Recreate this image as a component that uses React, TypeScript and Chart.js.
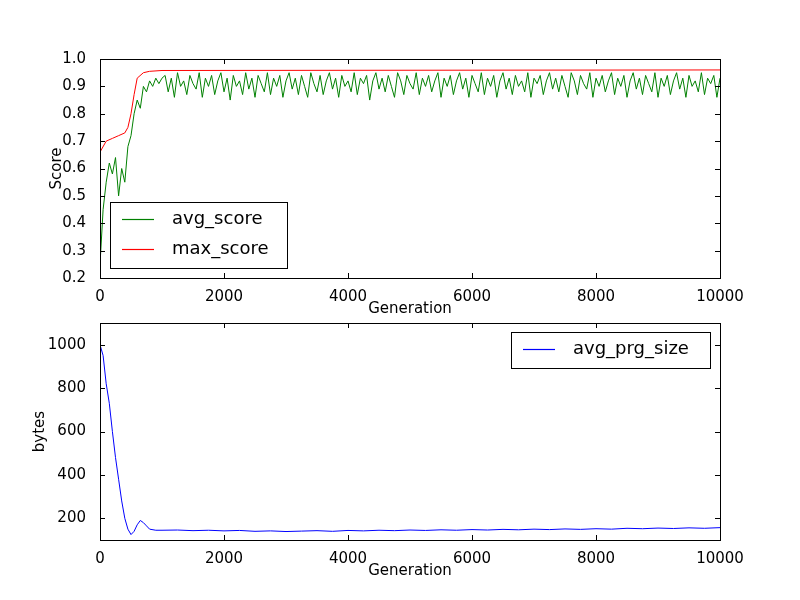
import React, { useEffect, useRef } from "react";
import { Chart, registerables } from "chart.js";
Chart.register(...registerables);

// Generations for the early avg_score part
const avgGenEarly = [0,50,100,150,200,250,300,350,400,450,500,550,600,650,700,750,800,850,900,950,1000];
const avgScoreEarly = [0.25,0.45,0.55,0.62,0.58,0.64,0.5,0.6,0.55,0.68,0.72,0.8,0.85,0.82,0.9,0.88,0.92,0.9,0.93,0.91,0.93];
// avg_score from 1050 to 10000 every 50
const avgScoreLate = [
0.94,0.88,0.93,0.86,0.95,0.9,0.92,0.87,0.94,0.91,
0.89,0.95,0.86,0.93,0.9,0.94,0.87,0.92,0.95,0.88,
0.93,0.85,0.94,0.9,0.92,0.87,0.95,0.89,0.93,0.86,
0.94,0.91,0.88,0.95,0.87,0.93,0.9,0.94,0.86,0.92,
0.95,0.89,0.93,0.87,0.94,0.9,0.86,0.95,0.91,0.88,
0.94,0.87,0.92,0.95,0.89,0.93,0.86,0.94,0.9,0.92,
0.88,0.95,0.87,0.93,0.91,0.94,0.85,0.92,0.95,0.89,
0.93,0.88,0.94,0.9,0.86,0.95,0.92,0.87,0.94,0.91,
0.89,0.95,0.87,0.93,0.9,0.94,0.88,0.92,0.95,0.86,
0.93,0.9,0.94,0.87,0.92,0.95,0.89,0.93,0.86,0.94,
0.91,0.88,0.95,0.87,0.93,0.9,0.94,0.86,0.92,0.95,
0.89,0.93,0.87,0.94,0.9,0.92,0.88,0.95,0.86,0.93,
0.91,0.94,0.87,0.92,0.95,0.89,0.93,0.88,0.94,0.9,
0.86,0.95,0.92,0.87,0.94,0.91,0.89,0.95,0.86,0.93,
0.9,0.94,0.88,0.92,0.95,0.87,0.93,0.9,0.94,0.86,
0.92,0.95,0.89,0.93,0.87,0.94,0.91,0.88,0.95,0.86,
0.93,0.9,0.94,0.87,0.92,0.95,0.89,0.93,0.86,0.94,
0.9,0.92,0.88,0.95,0.87,0.93,0.91,0.94,0.86,0.93
];
const maxGen = [0,100,200,300,400,450,500,550,600,700,800,1000,10000];
const maxScore = [0.66,0.7,0.71,0.72,0.73,0.75,0.8,0.87,0.93,0.95,0.955,0.958,0.96];

const prgGen = [0,50,100,150,200,250,300,350,400,450,500,550,600,650,700,750,800,900,1000,
1250,1500,1750,2000,2250,2500,2750,3000,3250,3500,3750,4000,4250,4500,4750,5000,5250,5500,5750,6000,
6250,6500,6750,7000,7250,7500,7750,8000,8250,8500,8750,9000,9250,9500,9750,10000];
const prgSize = [1000,950,820,730,600,480,380,280,200,150,125,140,170,190,180,165,150,145,145,
146,143,145,142,144,140,142,139,141,143,140,144,142,145,143,146,144,147,145,148,
146,149,147,150,148,151,149,152,150,154,152,155,153,156,154,157];

const FONT = "'DejaVu Sans', sans-serif";

function framePlugin(legend: { label: string; color: string }[], box: { x: number; y: number; w: number; h: number }, xt: number[], yt: number[], yTitle: string, yTitleX: number) {
  return {
    id: "frame",
    afterDatasetsDraw(chart: any) {
      const { ctx, chartArea: a, scales } = chart;
      ctx.save();
      ctx.strokeStyle = "#000";
      ctx.lineWidth = 1;
      ctx.strokeRect(a.left + 0.5, a.top + 0.5, a.right - a.left, a.bottom - a.top);
      ctx.beginPath();
      for (const v of xt) {
        const px = Math.round(scales.x.getPixelForValue(v)) + 0.5;
        ctx.moveTo(px, a.bottom); ctx.lineTo(px, a.bottom - 5);
        ctx.moveTo(px, a.top); ctx.lineTo(px, a.top + 5);
      }
      for (const v of yt) {
        const py = Math.round(scales.y.getPixelForValue(v)) + 0.5;
        ctx.moveTo(a.left, py); ctx.lineTo(a.left + 5, py);
        ctx.moveTo(a.right, py); ctx.lineTo(a.right - 5, py);
      }
      ctx.stroke();
      // axis titles
      ctx.fillStyle = "#000";
      ctx.font = `15px ${FONT}`;
      ctx.textAlign = "center";
      ctx.textBaseline = "middle";
      ctx.fillText("Generation", (a.left + a.right) / 2, a.bottom + 31);
      ctx.save();
      ctx.translate(yTitleX, (a.top + a.bottom) / 2);
      ctx.rotate(-Math.PI / 2);
      ctx.fillText(yTitle, 0, 0);
      ctx.restore();
      // legend
      ctx.textAlign = "left";
      ctx.fillStyle = "#fff";
      ctx.fillRect(box.x, box.y, box.w, box.h);
      ctx.strokeStyle = "#000";
      ctx.strokeRect(box.x + 0.5, box.y + 0.5, box.w, box.h);
      ctx.font = `18px ${FONT}`;
      legend.forEach((l, i) => {
        const cy = box.y + 17 + i * 30;
        ctx.strokeStyle = l.color;
        ctx.lineWidth = 1.2;
        ctx.beginPath();
        ctx.moveTo(box.x + 12, cy + 0.5); ctx.lineTo(box.x + 44, cy + 0.5);
        ctx.stroke();
        ctx.fillStyle = "#000";
        ctx.fillText(l.label, box.x + 62, cy);
      });
      ctx.restore();
    },
  };
}

export default function App() {
  const r1 = useRef<HTMLCanvasElement>(null);
  const r2 = useRef<HTMLCanvasElement>(null);
  useEffect(() => {
    const avgPts = avgGenEarly.map((g, i) => ({ x: g, y: avgScoreEarly[i] }))
      .concat(avgScoreLate.map((v, i) => ({ x: 1050 + i * 50, y: v })));
    const maxPts = maxGen.map((g, i) => ({ x: g, y: maxScore[i] }));
    const prgPts = prgGen.map((g, i) => ({ x: g, y: prgSize[i] }));
    const tickFont = { family: FONT, size: 15 };
    const xTicks = [0, 2000, 4000, 6000, 8000, 10000];
    const common = (yMin: number, yMax: number, yTicks: number[], xH: number, yDec: number) => ({
      x: {
        type: "linear", min: 0, max: 10000,
        afterBuildTicks: (s: any) => { s.ticks = xTicks.map((v) => ({ value: v })); },
        afterFit: (s: any) => { s.height = xH; },
        grid: { display: false }, border: { display: false },
        ticks: { color: "#000", font: tickFont, padding: 2, maxRotation: 0, callback: (v: any) => String(v) },
      },
      y: {
        min: yMin, max: yMax,
        afterBuildTicks: (s: any) => { s.ticks = yTicks.map((v) => ({ value: v })); },
        afterFit: (s: any) => { s.width = 100; },
        grid: { display: false }, border: { display: false },
        ticks: { color: "#000", font: tickFont, padding: 6, callback: (v: any) => Number(v).toFixed(yDec) },
      },
    });
    const sTicks = [0.2, 0.3, 0.4, 0.5, 0.6, 0.7, 0.8, 0.9, 1.0];
    const bTicks = [200, 400, 600, 800, 1000];
    const c1 = new Chart(r1.current!, {
      type: "line",
      data: { datasets: [
        { data: maxPts, borderColor: "#ff0000", borderWidth: 1, pointRadius: 0, tension: 0 },
        { data: avgPts, borderColor: "#008000", borderWidth: 1, pointRadius: 0, tension: 0 },
      ] },
      options: {
        animation: false, responsive: false, events: [],
        layout: { padding: { left: 0, right: 80, top: 59, bottom: 0 } },
        plugins: { legend: { display: false }, tooltip: { enabled: false } },
        scales: common(0.2, 1.0, sTicks, 40, 1) as any,
      },
      plugins: [framePlugin([{ label: "avg_score", color: "#008000" }, { label: "max_score", color: "#ff0000" }], { x: 110, y: 202, w: 177, h: 66 }, xTicks, sTicks, "Score", 57)],
    });
    const c2 = new Chart(r2.current!, {
      type: "line",
      data: { datasets: [
        { data: prgPts, borderColor: "#0000ff", borderWidth: 1, pointRadius: 0, tension: 0 },
      ] },
      options: {
        animation: false, responsive: false, events: [],
        layout: { padding: { left: 0, right: 80, top: 4, bottom: 0 } },
        plugins: { legend: { display: false }, tooltip: { enabled: false } },
        scales: common(100, 1100, bTicks, 60, 0) as any,
      },
      plugins: [framePlugin([{ label: "avg_prg_size", color: "#0000ff" }], { x: 511, y: 24, w: 199, h: 36 }, xTicks, bTicks, "bytes", 40)],
    });
    return () => { c1.destroy(); c2.destroy(); };
  }, []);
  return (
    <div style={{ position: "absolute", left: 0, top: 0, width: 800, height: 600, background: "#fff" }}>
      <canvas ref={r1} width={800} height={318} style={{ position: "absolute", left: 0, top: 0 }} />
      <canvas ref={r2} width={800} height={292} style={{ position: "absolute", left: 0, top: 308 }} />
    </div>
  );
}
